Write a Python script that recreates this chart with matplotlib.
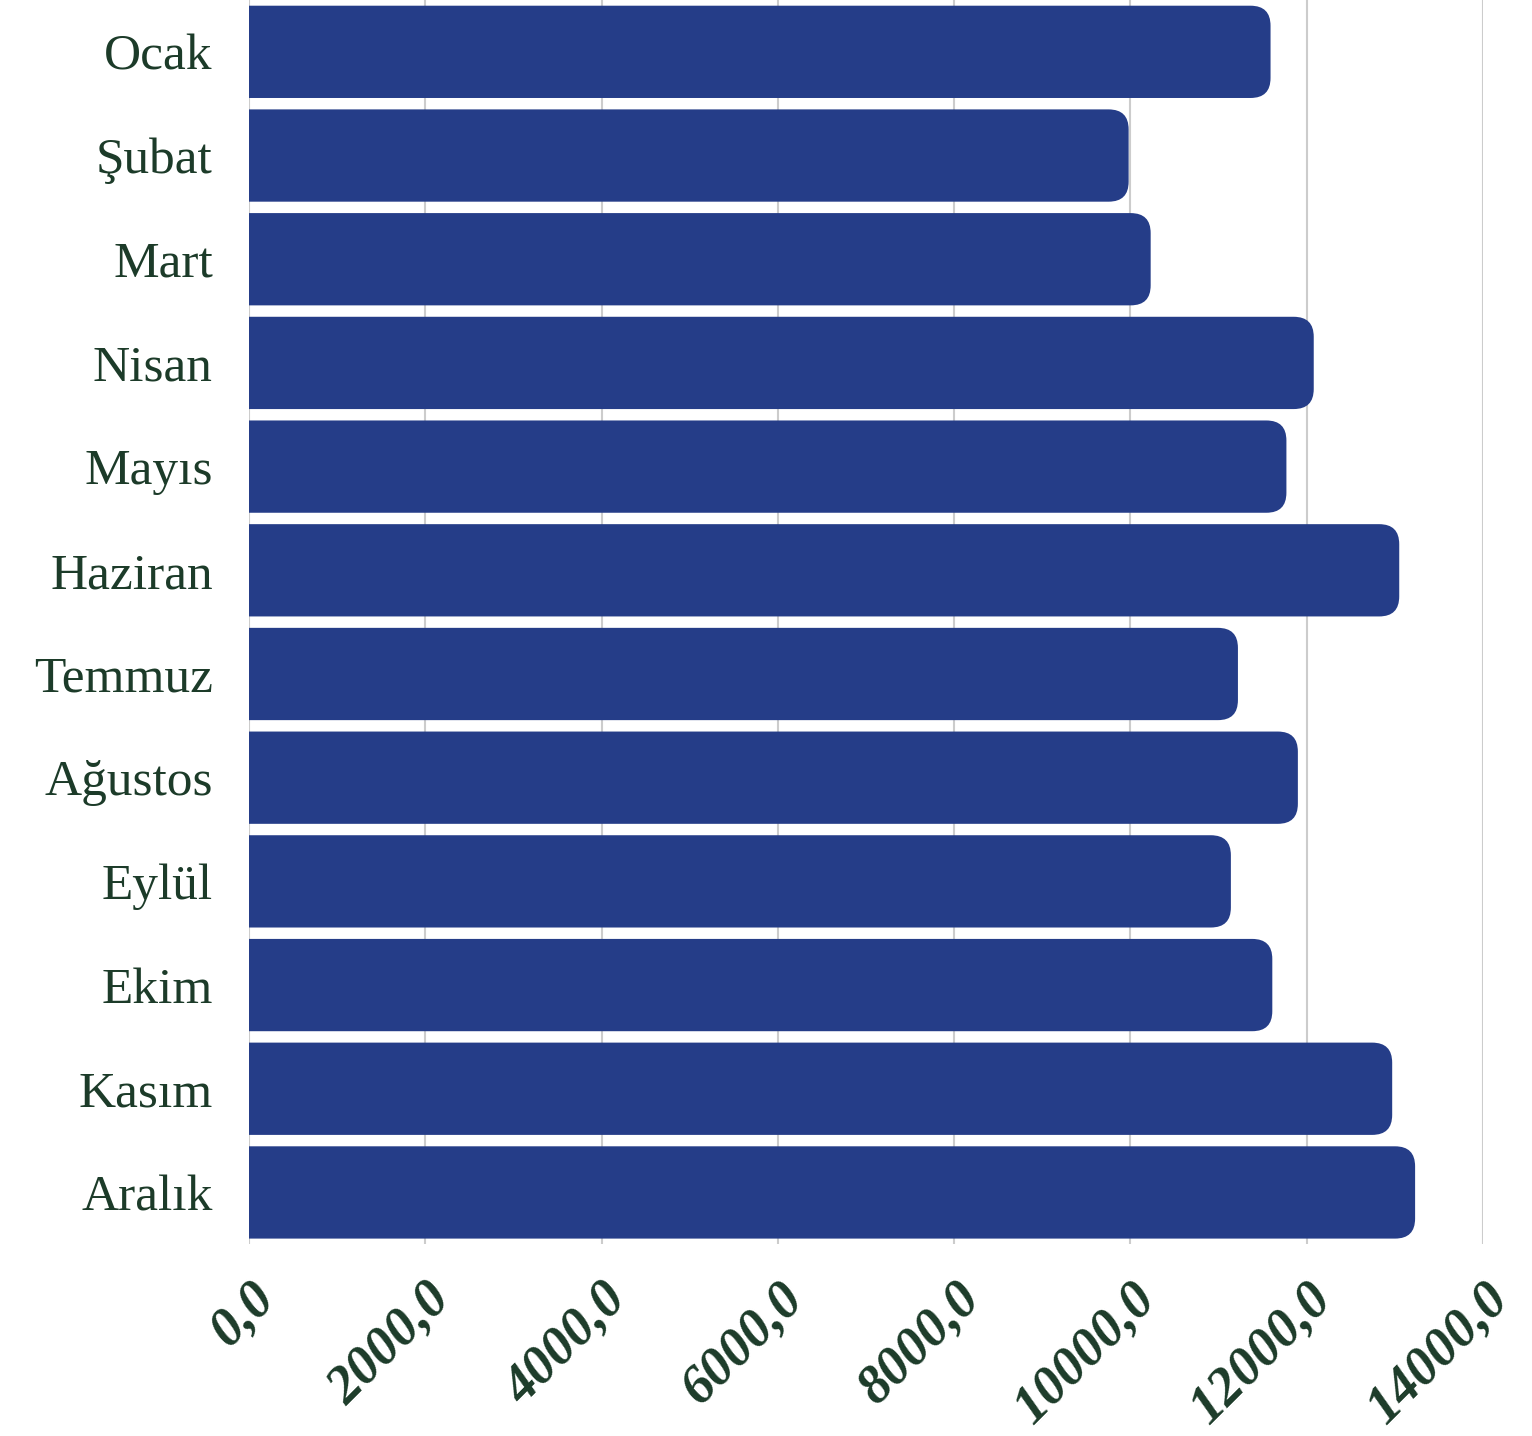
import matplotlib.pyplot as plt
from matplotlib.patches import FancyBboxPatch
from matplotlib.ticker import FuncFormatter

months = ['Ocak', 'Şubat', 'Mart', 'Nisan', 'Mayıs', 'Haziran',
          'Temmuz', 'Ağustos', 'Eylül', 'Ekim', 'Kasım', 'Aralık']
values = [11590, 9980, 10230, 12080, 11770, 13050,
          11220, 11900, 11140, 11610, 12970, 13230]
xticks = [0, 2000, 4000, 6000, 8000, 10000, 12000, 14000]

bar_color = '#253d88'
text_color = '#1c3b29'

fig = plt.figure(figsize=(15.32, 14.36), dpi=100)
ax_w, ax_h = 0.8055, 0.8665
ax = fig.add_axes([0.1625, 1.0 - ax_h, ax_w, ax_h])
ax.set_xlim(0, 14000)
ax.set_ylim(len(months) - 0.5, -0.5)

# rounded right corners: box starts left of 0 and gets clipped by the axes
w_px = fig.get_figwidth() * fig.dpi * ax_w
h_px = fig.get_figheight() * fig.dpi * ax_h
x_per_px = 14000 / w_px
y_per_px = len(months) / h_px
radius = 20 * x_per_px
aspect = y_per_px / x_per_px
height = 0.89

for i, v in enumerate(values):
    p = FancyBboxPatch((-2 * radius, i - height / 2), v + 2 * radius, height,
                       boxstyle=f'round,pad=0,rounding_size={radius}',
                       mutation_aspect=aspect, facecolor=bar_color,
                       edgecolor='none', zorder=3)
    ax.add_patch(p)

ax.set_yticks(range(len(months)))
ax.set_yticklabels(months, fontsize=37, color=text_color, family='Liberation Serif')
ax.set_xticks(xticks)
ax.xaxis.set_major_formatter(FuncFormatter(lambda x, p: f'{x:.1f}'.replace('.', ',')))
plt.setp(ax.get_xticklabels(), fontsize=39, color=text_color,
         family='Liberation Serif', fontweight='bold', fontstyle='italic',
         rotation=45, ha='right', va='top', rotation_mode='anchor')

ax.tick_params(axis='both', length=0)
ax.tick_params(axis='y', pad=26)
ax.tick_params(axis='x', pad=21)
ax.grid(axis='x', color='#cccccc', linewidth=1.5, zorder=0)
ax.set_axisbelow(True)
for s in ax.spines.values():
    s.set_visible(False)

fig.savefig('out.png', dpi=100)
